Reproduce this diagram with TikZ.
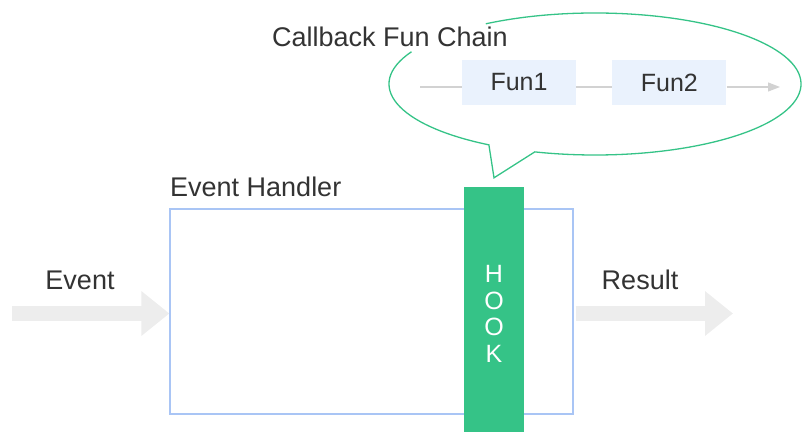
\documentclass[tikz,border=0pt]{standalone}
\usepackage{fontspec}
\setmainfont{Liberation Sans}
\usepackage{tikz}
\usetikzlibrary{arrows.meta,positioning,calc}
\definecolor{hkGreen}{HTML}{35C387}
\definecolor{hkBlue}{HTML}{A9C5F5}
\definecolor{hkFunBg}{HTML}{EAF2FD}
\definecolor{hkShade}{HTML}{EDEDED}
\definecolor{hkLine}{HTML}{D2D2D2}
\definecolor{hkInk}{HTML}{333333}
\tikzset{
  % plain label text
  lbl/.style={font=\fontsize{27}{30}\selectfont,text=hkInk,inner sep=0pt},
  % handler frame (blue)
  hbox/.style={rectangle,draw=hkBlue,line width=1.2pt,
    minimum width=403pt,minimum height=205pt,inner sep=0pt},
  % hook bar (green)
  hookbar/.style={rectangle,fill=hkGreen,
    minimum width=60pt,minimum height=245pt,inner sep=0pt},
  % letters on the hook
  hooktxt/.style={font=\fontsize{25}{26.5}\selectfont,text=white,
    align=center,inner sep=0pt},
  % function box (light blue)
  fnbox/.style={rectangle,fill=hkFunBg,minimum width=114pt,
    minimum height=45pt,inner sep=0pt,
    font=\fontsize{25}{28}\selectfont,text=hkInk},
  % Arrows
  flowarr/.style={-{Triangle[length=28pt,width=43pt]},line width=15pt,color=hkShade},
  chainline/.style={line width=1.2pt,color=hkLine},
  chainarr/.style={-{Triangle[length=12pt,width=9pt]},line width=1.2pt,color=hkLine},
  bubble/.style={draw=hkGreen,line width=1.3pt},
}
\begin{document}
\begin{tikzpicture}[x=1pt,y=1pt]
  \useasboundingbox (0,0) rectangle (802,432);
  \node[hbox] (handler) at (371.5,120.5) {};
  \node[lbl,anchor=base west] (hname) at (170,236) {Event Handler};
  \node[hookbar] (hook) at (494,122.5) {};
  \node[hooktxt] (hookword) at (494,118) {H\\O\\O\\K};

  \coordinate (evin) at (12,118.5);
  \coordinate (resout) at (733,118.5);
  \draw[flowarr] (evin) -- (evin -| handler.west);
  \draw[flowarr,shorten <=2pt] (evin -| handler.east) -- (resout);
  \node[lbl] (evlbl) at (80,152) {Event};
  \node[lbl] (reslbl) at (640,152) {Result};

  % callout bubble
  \coordinate (bubc) at (595,348);
  \draw[bubble] (bubc) ++(122:206 and 71)
    arc[start angle=122,end angle=-107,x radius=206,y radius=71]
    -- ([yshift=9pt]hook.north)
    -- ($(bubc)+(-121:206 and 71)$)
    arc[start angle=-121,end angle=-207,x radius=206,y radius=71];
  \node[lbl] (title) at (390,395) {Callback Fun Chain};

  \coordinate (chin) at (420,345);
  \coordinate (chout) at (780,345);
  \node[fnbox] (fun1) at (519,349.5) {Fun1};
  \node[fnbox,right=36pt of fun1] (fun2) {Fun2};
  \draw[chainline] (chin) -- (chin -| fun1.west);
  \draw[chainline] (fun1.east |- chin) -- (fun2.west |- chin);
  \draw[chainarr] (fun2.east |- chin) -- (chout);
\end{tikzpicture}
\end{document}
